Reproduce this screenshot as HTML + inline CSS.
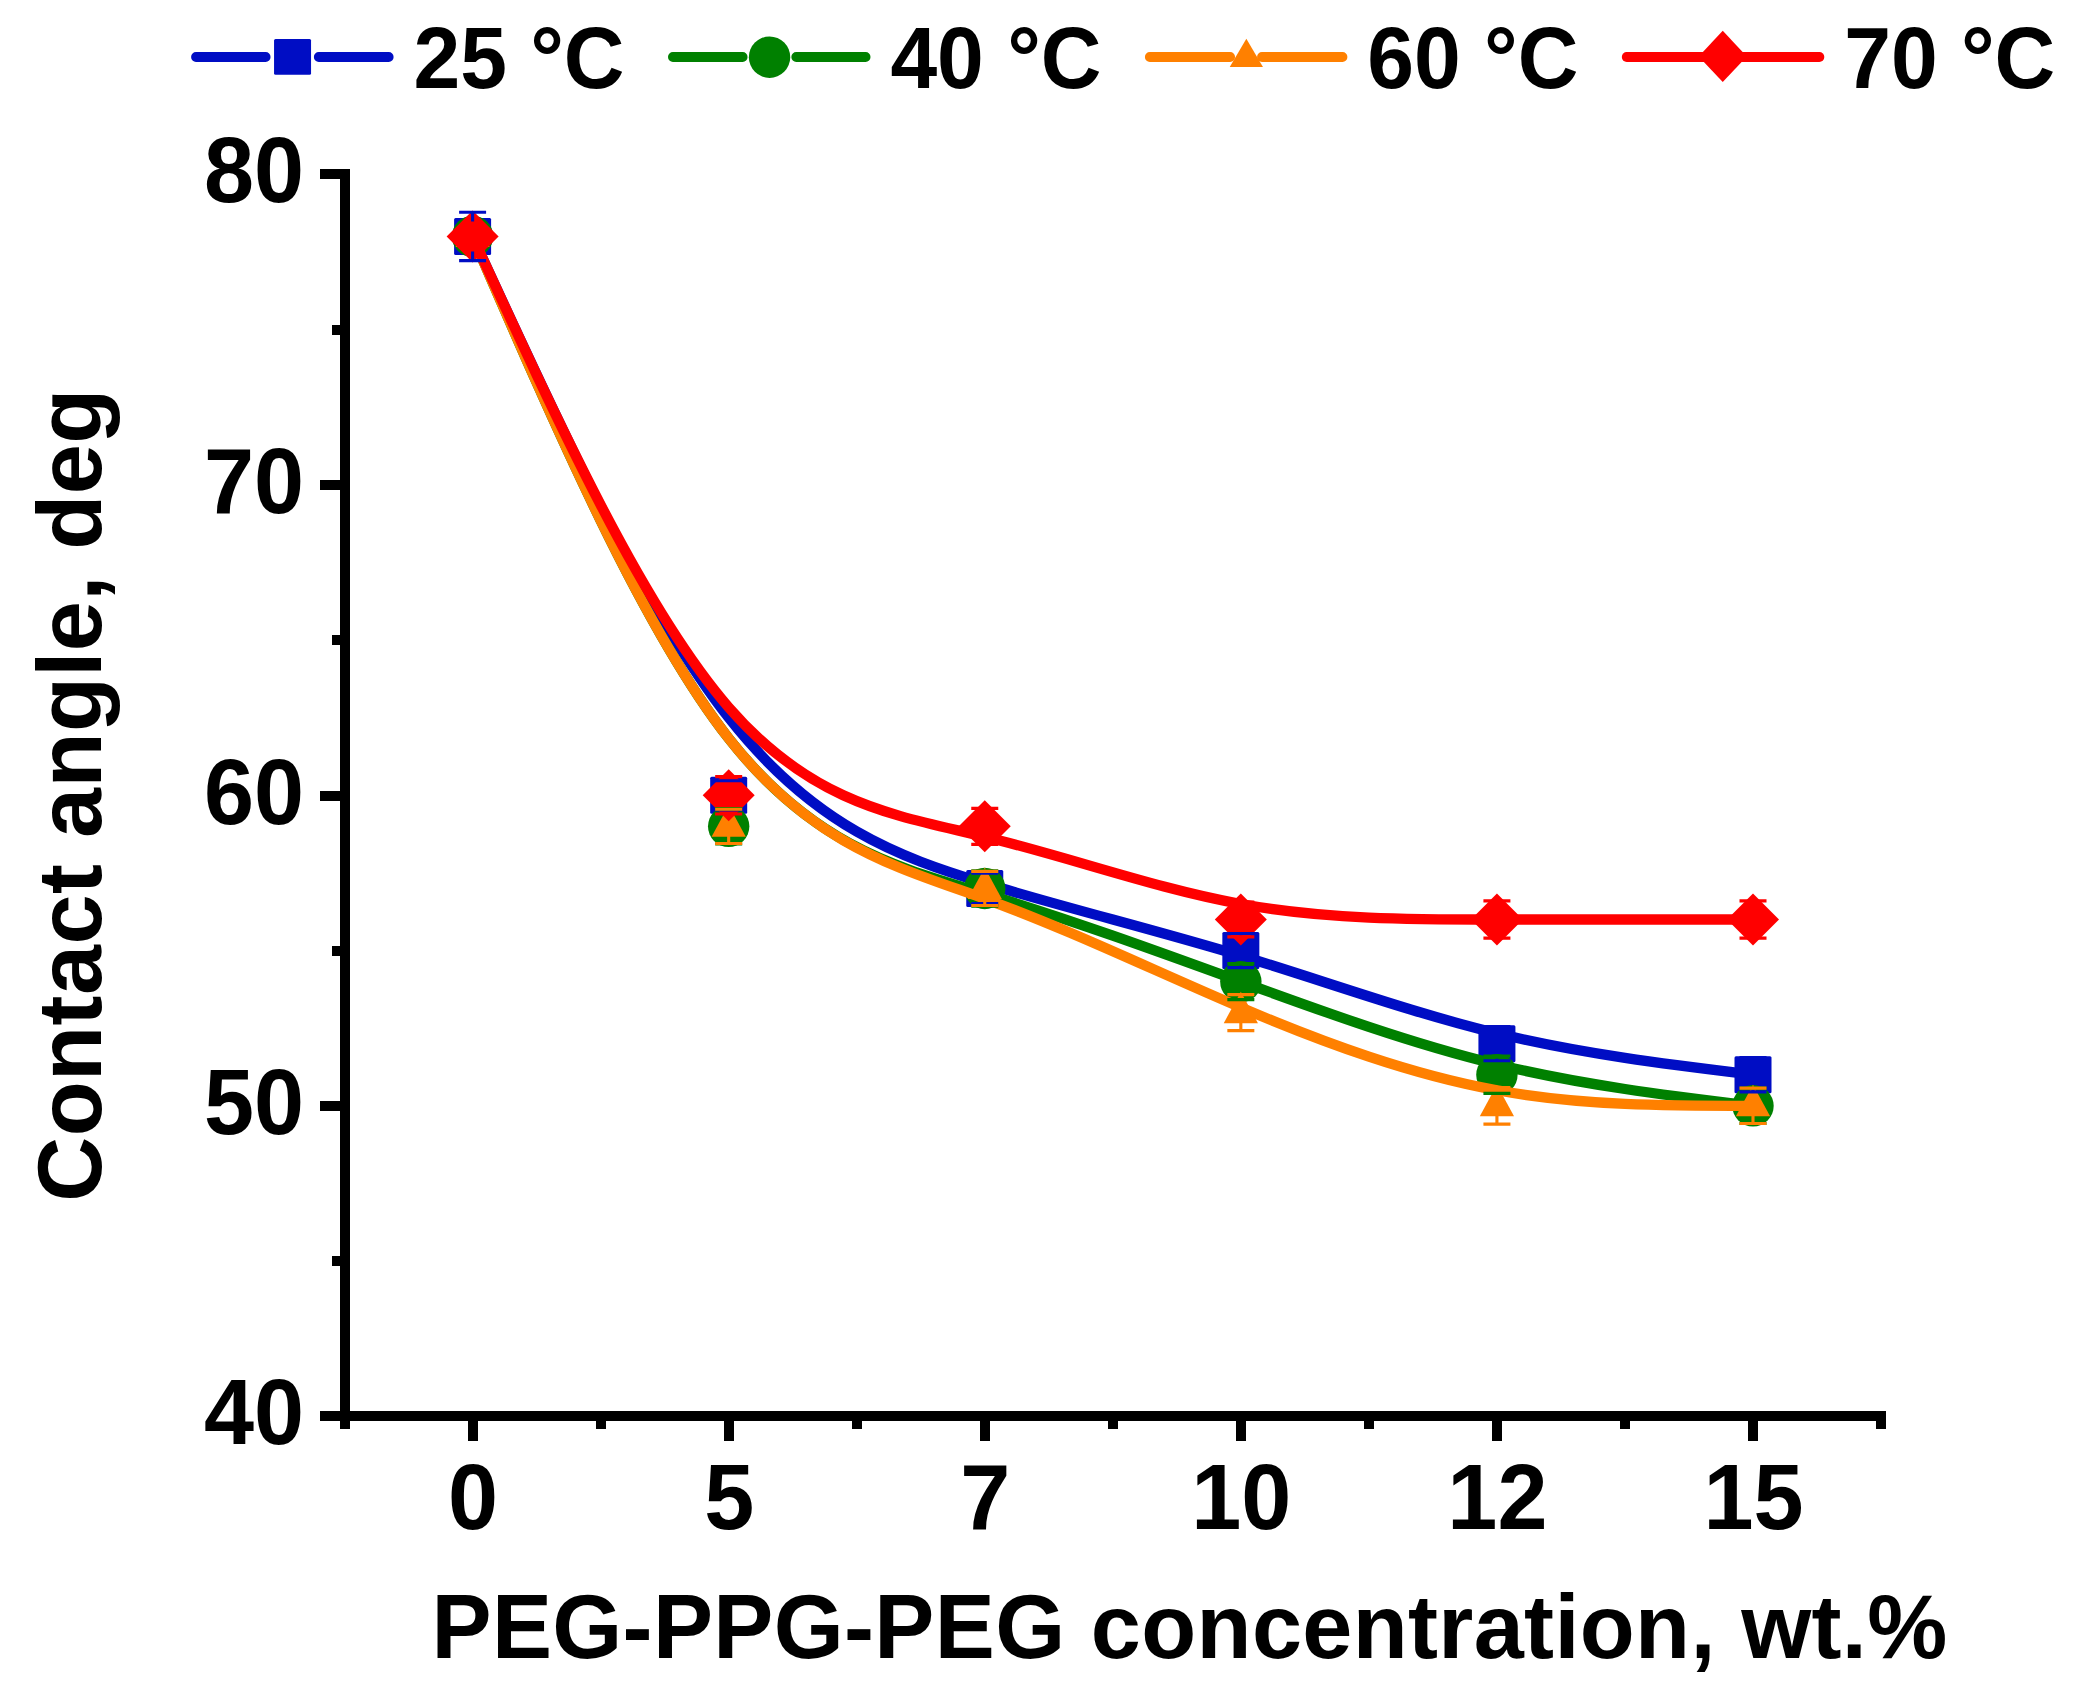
<!DOCTYPE html>
<html lang="en"><head><meta charset="utf-8"><title>Contact angle vs PEG-PPG-PEG concentration</title>
<style>html,body{margin:0;padding:0;background:#fff;overflow:hidden}svg{display:block}</style></head>
<body>
<svg width="2073" height="1697" viewBox="0 0 2073 1697">
<rect width="2073" height="1697" fill="#fff"/>
<g>
<g>
<path d="M472.6,236.4C557.96,422.7 643.32,609 728.68,717.68C814.04,826.35 899.4,857.4 984.76,883.28C1070.12,909.15 1155.48,929.85 1240.84,955.72C1326.2,981.6 1411.56,1012.65 1496.92,1033.35C1582.28,1054.05 1667.64,1064.4 1753,1074.75" fill="none" stroke="#000DC4" stroke-width="10.3" stroke-linecap="round" stroke-linejoin="round"/>
<rect x="454.1" y="217.9" width="37" height="37" rx="1.5" fill="#000DC4"/>
<rect x="710.18" y="776.8" width="37" height="37" rx="1.5" fill="#000DC4"/>
<rect x="966.26" y="869.95" width="37" height="37" rx="1.5" fill="#000DC4"/>
<rect x="1222.34" y="932.05" width="37" height="37" rx="1.5" fill="#000DC4"/>
<rect x="1478.42" y="1025.2" width="37" height="37" rx="1.5" fill="#000DC4"/>
<rect x="1734.5" y="1056.25" width="37" height="37" rx="1.5" fill="#000DC4"/>
</g>
<g>
<path d="M472.6,236.4C557.96,433.05 643.32,629.7 728.68,738.38C814.04,847.05 899.4,867.75 984.76,893.63C1070.12,919.5 1155.48,950.55 1240.84,981.6C1326.2,1012.65 1411.56,1043.7 1496.92,1064.4C1582.28,1085.1 1667.64,1095.45 1753,1105.8" fill="none" stroke="#008000" stroke-width="10.3" stroke-linecap="round" stroke-linejoin="round"/>
<circle cx="472.6" cy="236.4" r="20.7" fill="#008000"/>
<circle cx="728.68" cy="826.35" r="20.7" fill="#008000"/>
<circle cx="984.76" cy="888.45" r="20.7" fill="#008000"/>
<circle cx="1240.84" cy="981.6" r="20.7" fill="#008000"/>
<circle cx="1496.92" cy="1074.75" r="20.7" fill="#008000"/>
<circle cx="1753" cy="1105.8" r="20.7" fill="#008000"/>
</g>
<g>
<path d="M472.6,236.4C557.96,433.05 643.32,629.7 728.68,738.38C814.04,847.05 899.4,867.75 984.76,898.8C1070.12,929.85 1155.48,971.25 1240.84,1007.48C1326.2,1043.7 1411.56,1074.75 1496.92,1090.28C1582.28,1105.8 1667.64,1105.8 1753,1105.8" fill="none" stroke="#FF8000" stroke-width="10.3" stroke-linecap="round" stroke-linejoin="round"/>
<polygon points="472.6,215.4 489.7,246.9 455.5,246.9" fill="#FF8000"/>
<polygon points="728.68,805.35 745.78,836.85 711.58,836.85" fill="#FF8000"/>
<polygon points="984.76,867.45 1001.86,898.95 967.66,898.95" fill="#FF8000"/>
<polygon points="1240.84,991.65 1257.94,1023.15 1223.74,1023.15" fill="#FF8000"/>
<polygon points="1496.92,1084.8 1514.02,1116.3 1479.82,1116.3" fill="#FF8000"/>
<polygon points="1753,1084.8 1770.1,1116.3 1735.9,1116.3" fill="#FF8000"/>
</g>
<g>
<path d="M472.6,236.4C557.96,422.7 643.32,609 728.68,707.32C814.04,805.65 899.4,816 984.76,836.7C1070.12,857.4 1155.48,888.45 1240.84,903.98C1326.2,919.5 1411.56,919.5 1496.92,919.5C1582.28,919.5 1667.64,919.5 1753,919.5" fill="none" stroke="#FF0000" stroke-width="10.3" stroke-linecap="round" stroke-linejoin="round"/>
<polygon points="472.6,210.4 498.6,236.4 472.6,262.4 446.6,236.4" fill="#FF0000"/>
<polygon points="728.68,769.3 754.68,795.3 728.68,821.3 702.68,795.3" fill="#FF0000"/>
<polygon points="984.76,800.35 1010.76,826.35 984.76,852.35 958.76,826.35" fill="#FF0000"/>
<polygon points="1240.84,893.5 1266.84,919.5 1240.84,945.5 1214.84,919.5" fill="#FF0000"/>
<polygon points="1496.92,893.5 1522.92,919.5 1496.92,945.5 1470.92,919.5" fill="#FF0000"/>
<polygon points="1753,893.5 1779,919.5 1753,945.5 1727,919.5" fill="#FF0000"/>
</g>
<path d="M459.1,212.18H486.1M459.1,260.62H486.1M472.6,212.18V221.4M472.6,260.62V251.4M715.18,780.71H742.18M715.18,809.89H742.18M971.26,873.24H998.26M971.26,903.66H998.26M1227.34,933.47H1254.34M1227.34,967.63H1254.34M1240.84,933.47V935.55M1240.84,967.63V965.55M1483.42,1026.62H1510.42M1483.42,1060.78H1510.42M1496.92,1026.62V1028.7M1496.92,1060.78V1058.7M1739.5,1057.67H1766.5M1739.5,1091.83H1766.5M1753,1057.67V1059.75M1753,1091.83V1089.75" fill="none" stroke="#000DC4" stroke-width="3.1"/>
<path d="M715.18,808.65H742.18M715.18,844.05H742.18M971.26,870.75H998.26M971.26,906.15H998.26M1227.34,963.59H1254.34M1227.34,999.61H1254.34M1483.42,1056.12H1510.42M1483.42,1093.38H1510.42M1739.5,1088.1H1766.5M1739.5,1123.5H1766.5" fill="none" stroke="#008000" stroke-width="3.1"/>
<path d="M715.18,809.27H742.18M715.18,843.43H742.18M728.68,843.43V833.35M971.26,871.37H998.26M971.26,905.53H998.26M984.76,905.53V895.45M1227.34,994.64H1254.34M1227.34,1030.66H1254.34M1240.84,1030.66V1019.65M1483.42,1087.48H1510.42M1483.42,1124.12H1510.42M1496.92,1124.12V1112.8M1739.5,1088.1H1766.5M1739.5,1123.5H1766.5M1753,1123.5V1112.8" fill="none" stroke="#FF8000" stroke-width="3.1"/>
<path d="M715.18,776.67H742.18M715.18,813.93H742.18M971.26,808.34H998.26M971.26,844.36H998.26M1227.34,902.11H1254.34M1227.34,936.89H1254.34M1483.42,900.87H1510.42M1483.42,938.13H1510.42M1739.5,900.87H1766.5M1739.5,938.13H1766.5" fill="none" stroke="#FF0000" stroke-width="3.1"/>
</g>
<g fill="#000" shape-rendering="crispEdges">
<rect x="340" y="169" width="10" height="1260"/>
<rect x="320" y="1411" width="1566" height="10"/>
<rect x="320" y="169" width="20" height="10"/>
<rect x="320" y="480" width="20" height="10"/>
<rect x="320" y="791" width="20" height="10"/>
<rect x="320" y="1101" width="20" height="10"/>
<rect x="332" y="325" width="8" height="10"/>
<rect x="332" y="635" width="8" height="10"/>
<rect x="332" y="946" width="8" height="10"/>
<rect x="332" y="1256" width="8" height="10"/>
<rect x="468" y="1421" width="10" height="20"/>
<rect x="724" y="1421" width="10" height="20"/>
<rect x="980" y="1421" width="10" height="20"/>
<rect x="1236" y="1421" width="10" height="20"/>
<rect x="1492" y="1421" width="10" height="20"/>
<rect x="1748" y="1421" width="10" height="20"/>
<rect x="596" y="1421" width="10" height="8"/>
<rect x="852" y="1421" width="10" height="8"/>
<rect x="1108" y="1421" width="10" height="8"/>
<rect x="1364" y="1421" width="10" height="8"/>
<rect x="1620" y="1421" width="10" height="8"/>
<rect x="1876" y="1421" width="10" height="8"/>
</g>
<g font-family="'Liberation Sans', Arial, sans-serif" font-weight="bold" fill="#000" font-size="90">
<text transform="translate(304,202) scale(1,1.035)" text-anchor="end">80</text>
<text transform="translate(304,513) scale(1,1.035)" text-anchor="end">70</text>
<text transform="translate(304,824) scale(1,1.035)" text-anchor="end">60</text>
<text transform="translate(304,1134) scale(1,1.035)" text-anchor="end">50</text>
<text transform="translate(304,1444) scale(1,1.035)" text-anchor="end">40</text>
<text transform="translate(473.1,1529) scale(1,1.035)" text-anchor="middle">0</text>
<text transform="translate(729.18,1529) scale(1,1.035)" text-anchor="middle">5</text>
<text transform="translate(985.26,1529) scale(1,1.035)" text-anchor="middle">7</text>
<text transform="translate(1241.34,1529) scale(1,1.035)" text-anchor="middle">10</text>
<text transform="translate(1497.42,1529) scale(1,1.035)" text-anchor="middle">12</text>
<text transform="translate(1753.5,1529) scale(1,1.035)" text-anchor="middle">15</text>
<text x="431.5" y="1658" letter-spacing="0.35">PEG-PPG-PEG concentration, wt.%</text>
<text transform="translate(100.8,1201.8) rotate(-90)" letter-spacing="0.47">Contact angle, deg</text>
</g>
<g font-family="'Liberation Sans', Arial, sans-serif" font-weight="bold" fill="#000" font-size="84">
<path d="M196,57H265.65M318.75,57H388.7" stroke="#000DC4" stroke-width="9.8" stroke-linecap="round" fill="none"/>
<rect x="274.05" y="39" width="37" height="35.8" rx="1.5" fill="#000DC4"/>
<text transform="translate(413.5,88.2) scale(1,1.04)">25 °C</text>
<path d="M672.9,57H742.65M796.25,57H865.6" stroke="#008000" stroke-width="9.8" stroke-linecap="round" fill="none"/>
<circle cx="769.55" cy="57.2" r="20.7" fill="#008000"/>
<text transform="translate(890.4,88.2) scale(1,1.04)">40 °C</text>
<path d="M1149.8,57H1230.15M1261.95,57H1342.5" stroke="#FF8000" stroke-width="9.8" stroke-linecap="round" fill="none"/>
<polygon points="1246.35,38.7 1262.95,67.1 1229.75,67.1" fill="#FF8000"/>
<text transform="translate(1367.3,88.2) scale(1,1.04)">60 °C</text>
<path d="M1626.7,57H1819.4" stroke="#FF0000" stroke-width="9.8" stroke-linecap="round" fill="none"/>
<polygon points="1722.75,30.7 1746.85,56.4 1722.75,82.1 1698.65,56.4" fill="#FF0000"/>
<text transform="translate(1844.2,88.2) scale(1,1.04)">70 °C</text>
</g>
</svg>
</body></html>
